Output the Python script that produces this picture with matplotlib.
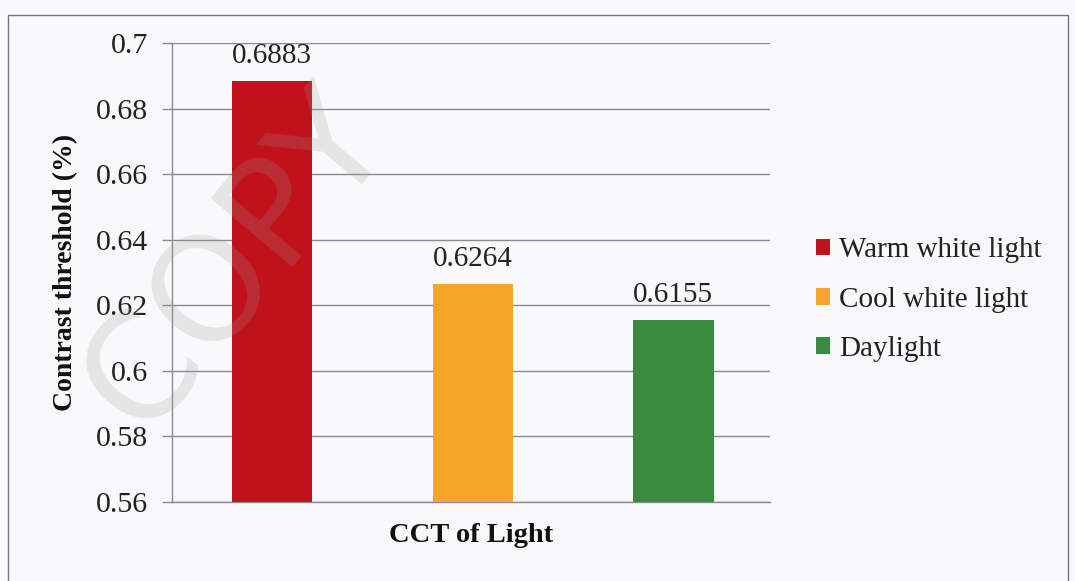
import matplotlib
matplotlib.use("Agg")
import matplotlib.pyplot as plt
from matplotlib.patches import Rectangle

series = ["Warm white light", "Cool white light", "Daylight"]
values = [0.6883, 0.6264, 0.6155]
labels = ["0.6883", "0.6264", "0.6155"]
colors = ["#c1121c", "#f4a62a", "#3a8a3f"]
yticks = [0.56, 0.58, 0.6, 0.62, 0.64, 0.66, 0.68, 0.7]
ytick_labels = ["0.56", "0.58", "0.6", "0.62", "0.64", "0.66", "0.68", "0.7"]
xlabel = "CCT of Light"
ylabel = "Contrast threshold (%)"

plt.rcParams["font.family"] = ["Liberation Serif", "DejaVu Serif"]
bg = "#f9f8fa"
fig = plt.figure(figsize=(10.75, 5.81), dpi=100, facecolor=bg)
ax = fig.add_axes([0.16, 0.136, 0.556, 0.79], facecolor=bg)

positions = list(range(len(series)))
bars = ax.bar(positions, values, width=0.4, color=colors, zorder=3)
for b, s in zip(bars, series):
    b.set_label(s)
for x, v, t in zip(positions, values, labels):
    ax.annotate(t, (x, v), xytext=(0, 13), textcoords="offset points",
                ha="center", va="baseline", fontsize=21, color="#222222")

ax.set_ylim(0.56, 0.7)
ax.set_xlim(-0.5, 2.48)
ax.set_yticks(yticks)
ax.set_yticklabels(ytick_labels, fontsize=21.5, color="#222222")
ax.set_xticks([])
ax.yaxis.grid(True, color="#8a8a95", linewidth=1.0, zorder=0)
ax.tick_params(axis="y", length=7, color="#8a8a95", width=1.0, pad=10)
for s in ["top", "right"]:
    ax.spines[s].set_visible(False)
for s in ["left", "bottom"]:
    ax.spines[s].set_color("#8a8a95")
    ax.spines[s].set_linewidth(1.0)

ax.set_xlabel(xlabel, fontsize=20.5, fontweight="bold", labelpad=15, color="#111111")
ax.set_ylabel(ylabel, fontsize=20, fontweight="bold", labelpad=13, color="#111111")

leg = ax.legend(loc="center left", bbox_to_anchor=(1.033, 0.441), frameon=False,
                fontsize=21, handlelength=0.5, handleheight=0.5, handletextpad=0.3,
                labelspacing=0.8)
for t in leg.get_texts():
    t.set_color("#222222")

# figure border
fig.patches.append(Rectangle((8 / 1075, -0.05), (1068 - 8) / 1075, 1 - 15 / 581 + 0.05,
                             transform=fig.transFigure, fill=False,
                             edgecolor="#777777", linewidth=1.0))

# scan watermark
fig.text(0.22, 0.55, "COPY", rotation=50, fontsize=105, color="#999999", alpha=0.2,
         ha="center", va="center", family="DejaVu Sans", zorder=10)

fig.savefig("out.png", dpi=100, facecolor=bg)
